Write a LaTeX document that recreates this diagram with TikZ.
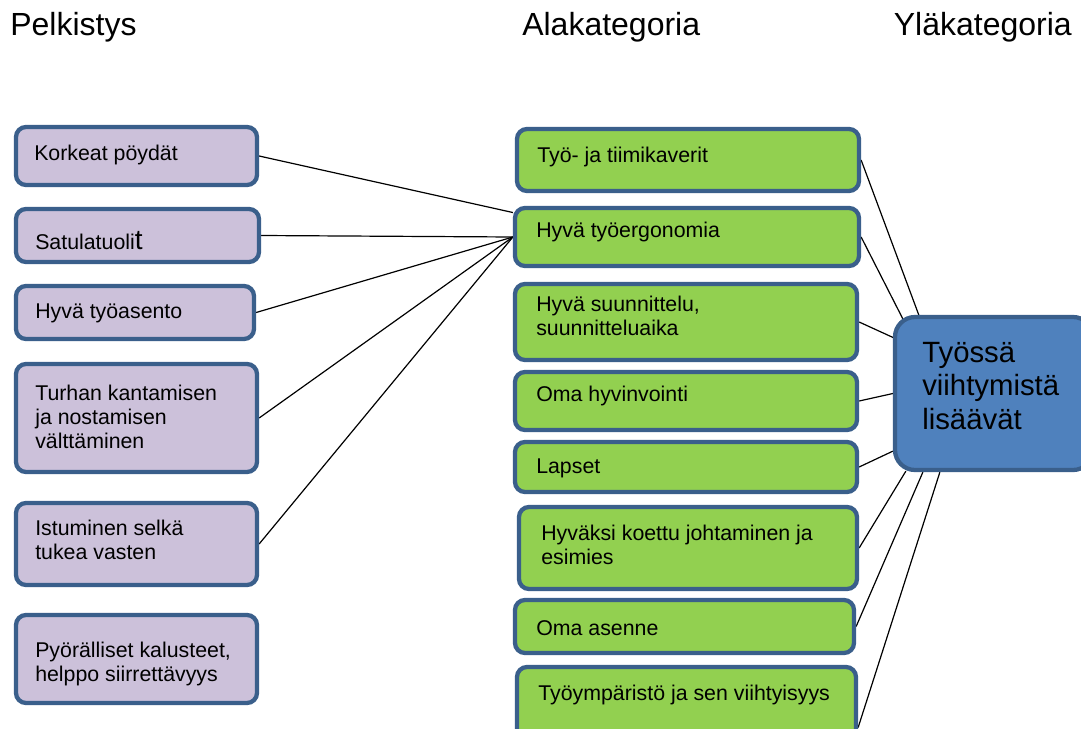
\documentclass[tikz,border=0pt]{standalone}
\usepackage{fontspec}
\setmainfont{Liberation Sans}
\usetikzlibrary{calc,fit,backgrounds}
\definecolor{bordc}{RGB}{58,95,139}
\definecolor{purp}{RGB}{204,193,218}
\definecolor{grn}{RGB}{146,208,80}
\definecolor{blu}{RGB}{79,129,189}
\begin{document}
\begin{tikzpicture}[x=0.75pt,y=-0.75pt,
  boxbase/.style={draw=bordc, line width=3.2pt, inner sep=0pt, rounded corners=7.5pt},
  pbox/.style={boxbase, fill=purp},
  gbox/.style={boxbase, fill=grn},
  bbox/.style={boxbase, fill=blu, rounded corners=15pt},
  lbl/.style={inner sep=0pt, align=left, font=\fontsize{16}{18}\selectfont},
  one/.style={lbl, anchor=base west},
  multi/.style={lbl, anchor=north west},
  head/.style={inner sep=0pt, anchor=base west, font=\fontsize{24}{28}\selectfont},
  conn/.style={draw=black, line width=0.9pt}]
\clip (0,0) rectangle (1081,728);
% headers
\node[head] (h1) at (10,36) {Pelkistys};
\node[head] (h2) at (522,36) {Alakategoria};
\node[head, anchor=base east] (h3) at (1072,36) {Yläkategoria};
% left boxes
\node[pbox, fit={(16,127) (257,185)}] (b1) {};
\node[pbox, fit={(16,209) (259,262)}] (b2) {};
\node[pbox, fit={(16,286) (254,339)}] (b3) {};
\node[pbox, fit={(16,364) (257,472)}] (b4) {};
\node[pbox, fit={(16,503) (257,585)}] (b5) {};
\node[pbox, fit={(16,615) (257,703)}] (b6) {};
\node[one] (t1) at (34,160) {Korkeat pöydät};
\node[one] (t2) at (35,249) {Satulatuoli{\fontsize{21}{21}\selectfont t}};
\node[one] (t3) at (35,318) {Hyvä työasento};
\node[multi] (t4) at (35,385) {Turhan kantamisen\\ja nostamisen\\välttäminen};
\node[multi] (t5) at (35,520) {Istuminen selkä\\tukea vasten};
\node[multi] (t6) at (35,642) {Pyörälliset kalusteet,\\helppo siirrettävyys};
% middle boxes
\node[gbox, fit={(517,129) (859,191)}] (g1) {};
\node[gbox, fit={(515,208) (859,266)}] (g2) {};
\node[gbox, fit={(515,284) (857,360)}] (g3) {};
\node[gbox, fit={(515,372) (857,430)}] (g4) {};
\node[gbox, fit={(515,442) (857,492)}] (g5) {};
\node[gbox, fit={(519,507) (857,589)}] (g6) {};
\node[gbox, fit={(515,600) (854,653)}] (g7) {};
\node[gbox, fit={(517,667) (856,788)}] (g8) {};
\node[one] (s1) at (537,162) {Työ- ja tiimikaverit};
\node[one] (s2) at (536,237) {Hyvä työergonomia};
\node[multi] (s3) at (536,296) {Hyvä suunnittelu,\\suunnitteluaika};
\node[one] (s4) at (536,401) {Oma hyvinvointi};
\node[one] (s5) at (536,473) {Lapset};
\node[multi] (s6) at (541,525) {Hyväksi koettu johtaminen ja\\esimies};
\node[one] (s7) at (536,635) {Oma asenne};
\node[one] (s8) at (538,700) {Työympäristö ja sen viihtyisyys};
% right box
\node[bbox, fit={(895,317) (1093,470)}] (bl) {};
\node[lbl, anchor=north west, font=\fontsize{22}{25}\selectfont] (bt) at (922,342) {Työssä\\viihtymistä\\lisäävät};
% connectors
\begin{scope}[on background layer]
\fill[white] (0,0) rectangle (1081,728);
\draw[conn] (b1.east) -- (g2.172);
\draw[conn] (b2.east) -- (g2.west);
\draw[conn] (b3.east) -- (g2.west);
\draw[conn] (b4.east) -- (g2.west);
\draw[conn] (b5.east) -- (g2.west);
\draw[conn] (g1.east) -- ($(bl.north west)+(27,3)$);
\draw[conn] (g2.east) -- ($(bl.north west)+(12,8)$);
\draw[conn] (g3.east) -- ($(bl.north west)+(1,23)$);
\draw[conn] (g4.east) -- (bl.west);
\draw[conn] (g5.east) -- ($(bl.south west)+(0,-21)$);
\draw[conn] (g6.east) -- ($(bl.south west)+(13,-1)$);
\draw[conn] (g7.east) -- ($(bl.south west)+(30,0)$);
\draw[conn] (g8.east) -- ($(bl.south west)+(47,0)$);
\end{scope}
\end{tikzpicture}
\end{document}
